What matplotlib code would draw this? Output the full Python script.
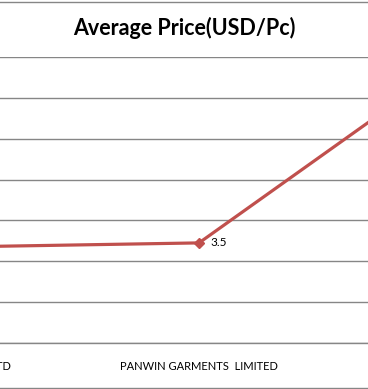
import matplotlib
matplotlib.use("Agg")
import matplotlib.pyplot as plt
from matplotlib.lines import Line2D

# data (only the middle point is fully visible in the crop)
categories = ["KNIT GARMENTS LTD", "PANWIN GARMENTS  LIMITED", "LTD"]
avg_price = [3.47, 3.49, 4.34]
yticks = [3.0, 3.2, 3.4, 3.6, 3.8, 4.0, 4.2, 4.4]

W, H = 368, 389
fig = plt.figure(figsize=(W / 100, H / 100), dpi=100)

# the picture is a crop of a wider chart, so the axes run past the figure edges
step = 244        # px between categories
mid_x = 199       # px of middle category
ax_left = mid_x - 1.5 * step
ax_bottom = H - 343
ax_top = H - 57
ax = fig.add_axes([ax_left / W, ax_bottom / H, 3 * step / W, (ax_top - ax_bottom) / H])

x = list(range(len(categories)))
ax.plot(x, avg_price, color="#C0504D", lw=2.3, marker="D", ms=5.5,
        mec="#C0504D", mfc="#C0504D", zorder=3, clip_on=False)
for xi, v in zip(x, avg_price):
    ax.annotate(f"{v:.1f}", (xi, v), xytext=(8, 0), textcoords="offset points",
                va="center", ha="left", fontsize=8.5, family="Lato")

ax.set_xlim(-0.5, 2.5)
ax.set_ylim(yticks[0], yticks[-1])
ax.set_yticks(yticks)
ax.yaxis.grid(True, color="#868686", lw=1.0)
ax.set_yticklabels([])
ax.set_xticks(x)
ax.set_xticklabels(categories, fontsize=8, family="Lato")
ax.tick_params(length=0, pad=13)
for s in ["top", "left", "right"]:
    ax.spines[s].set_visible(False)
ax.spines["bottom"].set_color("#868686")
ax.spines["bottom"].set_linewidth(1.0)

fig.text(184 / W, 1 - 28 / H, "Average Price(USD/Pc)", ha="center", va="center",
         fontsize=15.5, fontweight="bold", family="Lato")

# chart border
for yy in [1.5, 387.5]:
    fig.add_artist(Line2D([0, 1], [1 - yy / H, 1 - yy / H], color="#868686", lw=1.0))

fig.savefig("out.png", dpi=100)
